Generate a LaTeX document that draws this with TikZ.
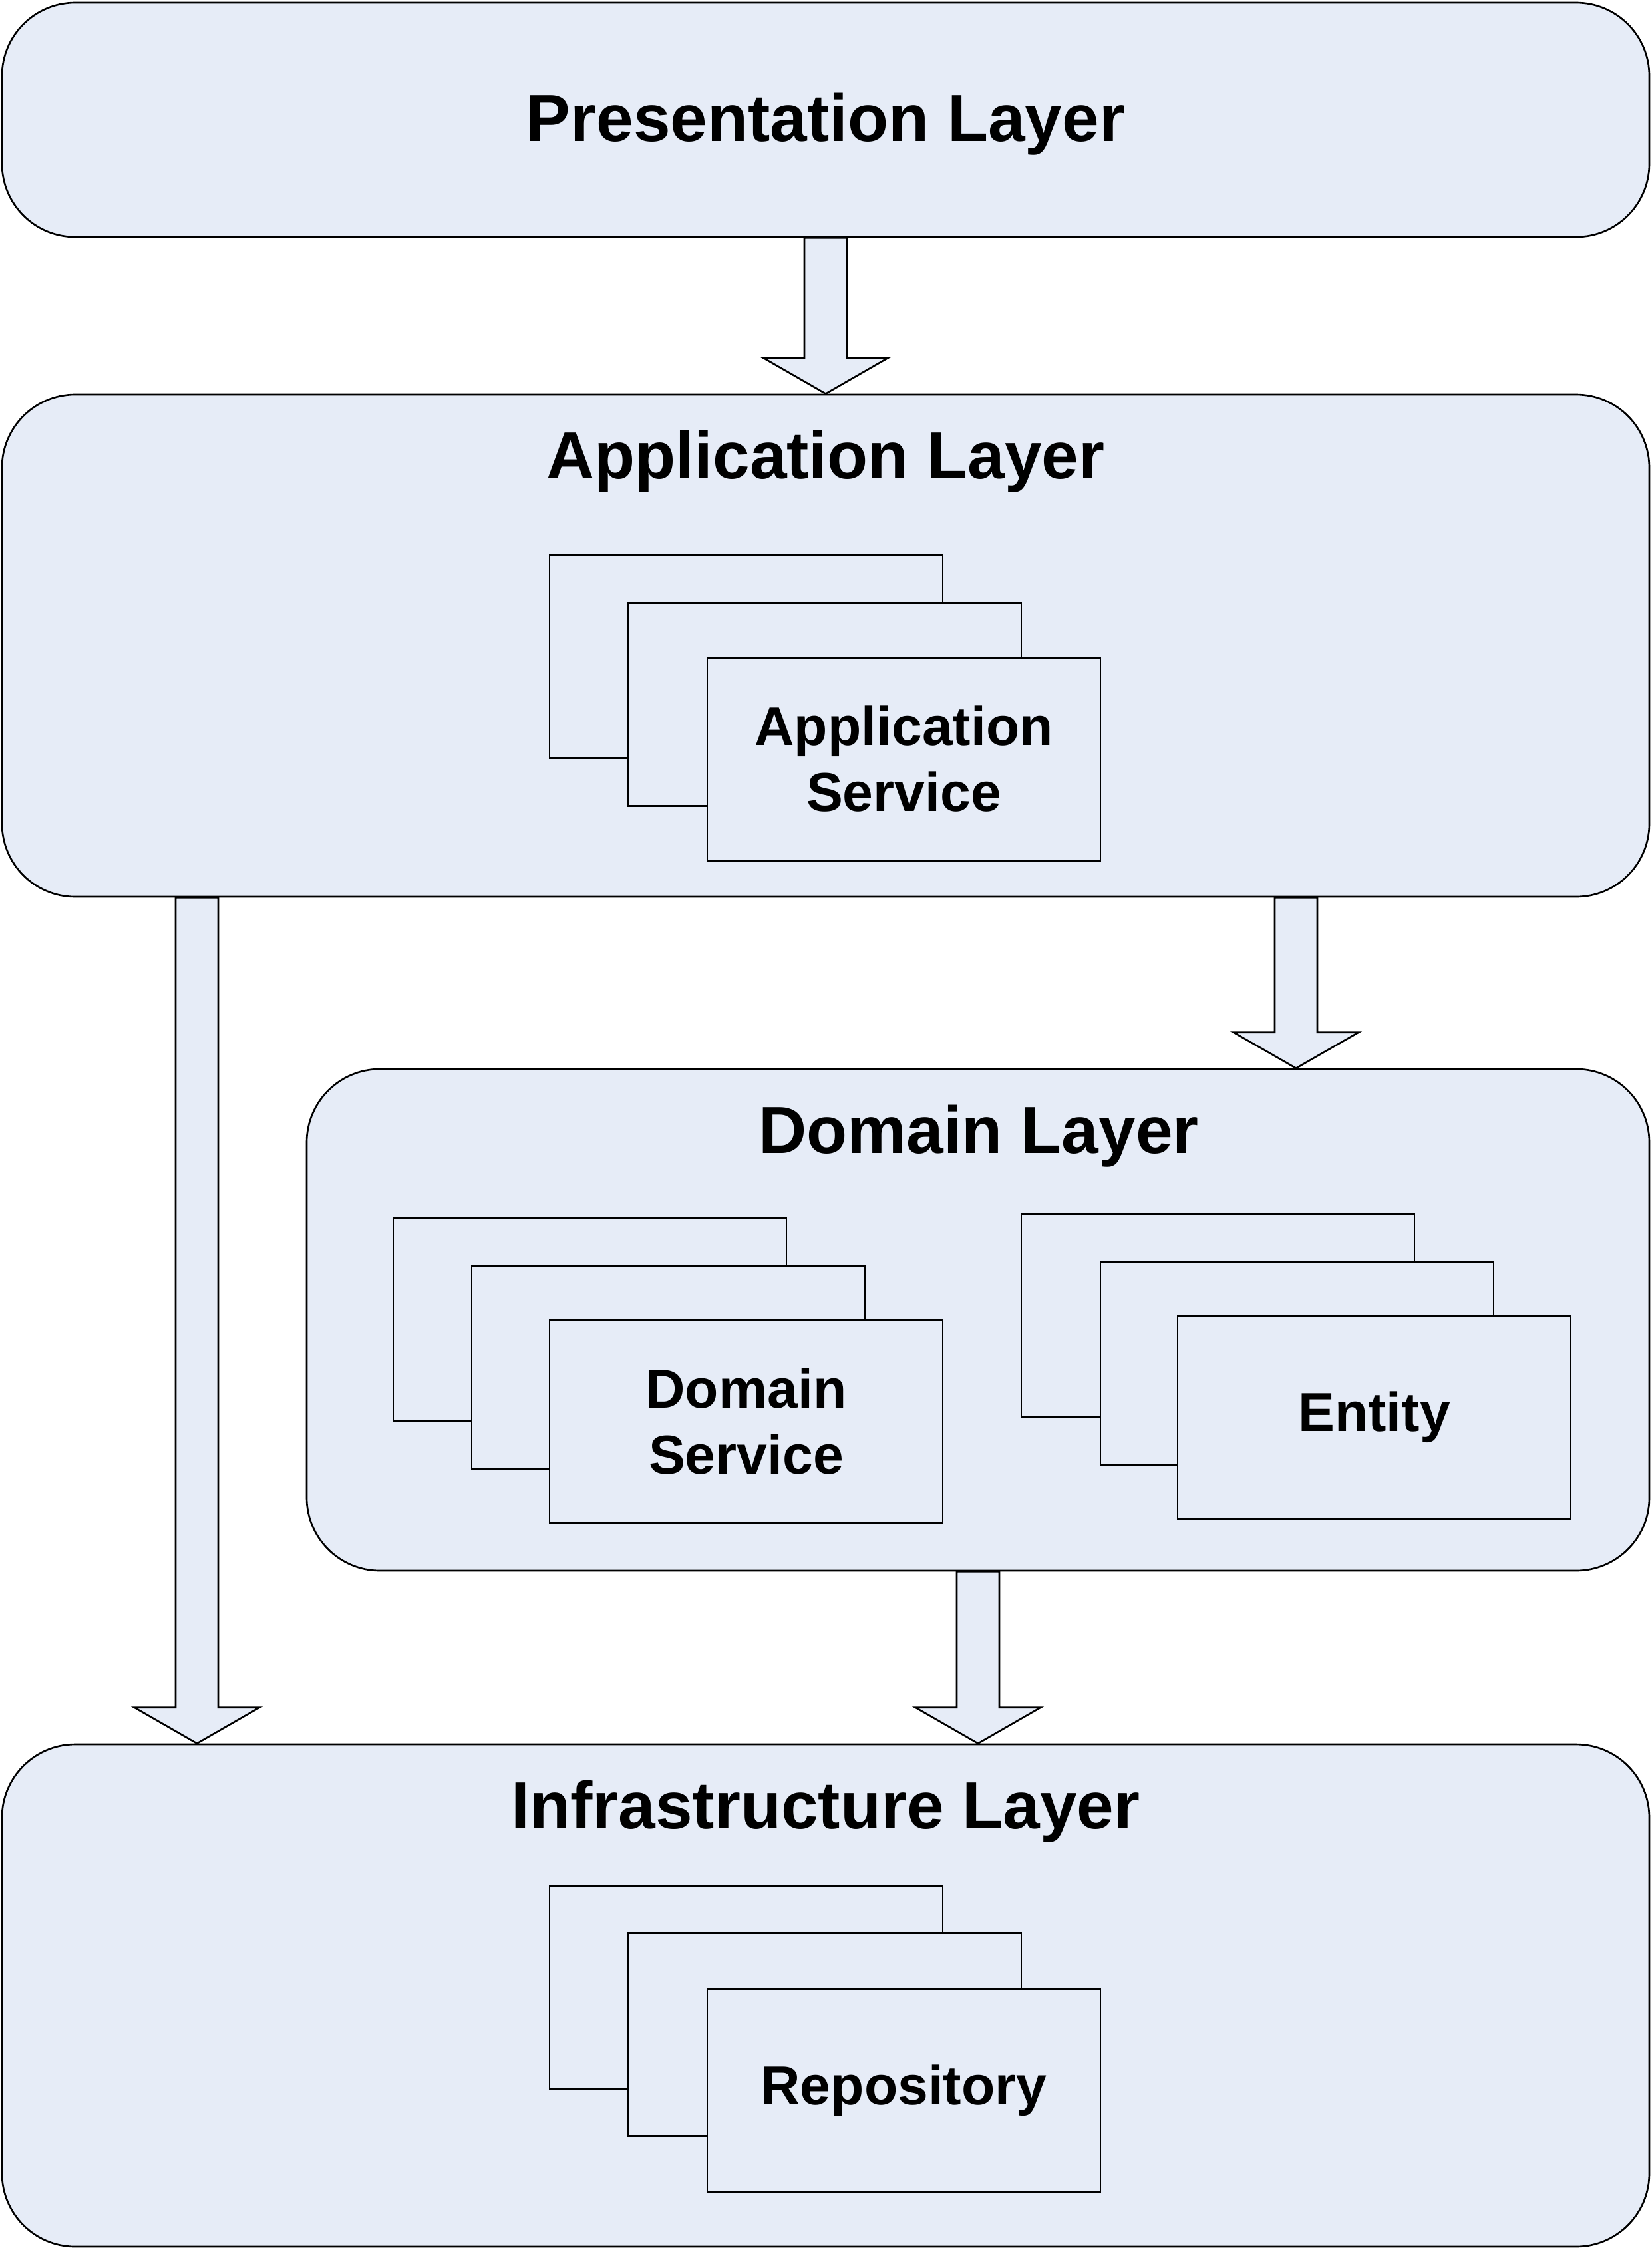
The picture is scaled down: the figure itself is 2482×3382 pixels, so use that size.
\documentclass[tikz,border=0pt]{standalone}
\usepackage{fontspec}
\setmainfont{Liberation Sans}
\usetikzlibrary{calc}
\definecolor{lay}{RGB}{230,236,247}
\newcommand{\blkarrow}[3]{%
  \filldraw[blk] ({#1-32},0 |- #2.south) -- ($({#1-32},0 |- #3.north)+(0,-54)$)
    -- ($({#1-94},0 |- #3.north)+(0,-54)$) -- ({#1},0 |- #3.north)
    -- ($({#1+94},0 |- #3.north)+(0,-54)$) -- ($({#1+32},0 |- #3.north)+(0,-54)$)
    -- ({#1+32},0 |- #2.south) -- cycle;}
\begin{document}
\begin{tikzpicture}[x=0.3pt,y=-0.3pt,
  layer/.style={draw=black, line width=0.8pt, fill=lay, rounded corners=33pt, inner sep=0pt},
  card/.style={draw=black, line width=0.8pt, fill=lay, minimum width=177.3pt, minimum height=91.5pt, inner sep=0pt, align=center, font=\fontsize{24.7}{29.7}\selectfont\bfseries},
  title/.style={anchor=base, inner sep=0pt, font=\fontsize{30}{36}\selectfont\bfseries},
  blk/.style={draw=black, line width=0.8pt, fill=lay, line join=miter}]
\useasboundingbox (0,0) rectangle (2482,3382);
% layers
\node[layer, minimum width=742.8pt, minimum height=105.6pt] (pres) at (1241,180) {};
\node[layer, minimum width=742.8pt, minimum height=226.5pt] (app) at (1241,970.5) {};
\node[layer, minimum width=605.4pt, minimum height=226.2pt] (dom) at (1470,1984) {};
\node[layer, minimum width=742.8pt, minimum height=226.5pt] (infra) at (1241,2999.5) {};
% titles
\node[title] (tpres) at (1241,212) {Presentation Layer};
\node[title] (tapp) at (1241,719) {Application Layer};
\node[title] (tdom) at (1471,1733) {Domain Layer};
\node[title] (tinfra) at (1241,2748) {Infrastructure Layer};
% application service stack
\node[card] (as1) at (1121.5,987) {};
\node[card] (as2) at (1239.5,1059) {};
\node[card] (as3) at (1358.5,1141) {Application\\Service};
% domain service stack
\node[card] (ds1) at (886.5,1984) {};
\node[card] (ds2) at (1004.5,2055) {};
\node[card] (ds3) at (1121.5,2137) {Domain\\Service};
% entity stack
\node[card] (en1) at (1830.5,1977.5) {};
\node[card] (en2) at (1949.5,2049) {};
\node[card] (en3) at (2065.5,2130.5) {Entity};
% repository stack
\node[card] (rp1) at (1121.5,2988) {};
\node[card] (rp2) at (1239.5,3058) {};
\node[card] (rp3) at (1358.5,3142) {Repository};
% block arrows
\blkarrow{1241}{pres}{app}
\blkarrow{1948}{app}{dom}
\blkarrow{296}{app}{infra}
\blkarrow{1470}{dom}{infra}
\end{tikzpicture}
\end{document}
